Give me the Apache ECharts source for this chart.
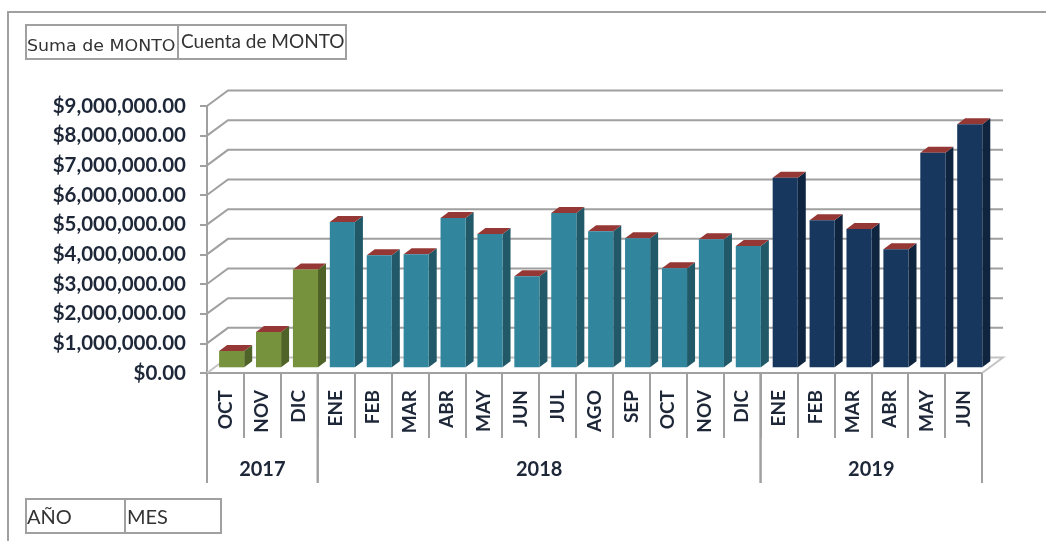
<!DOCTYPE html>
<html style="height: 100%">
<head>
<meta charset="utf-8">
<style>
  body { margin: 0; background: #fff; overflow: hidden; }
  #container { width: 1046px; height: 541px; filter: blur(0.7px); }
</style>
</head>
<body>
<div id="container"></div>
<script src="https://cdn.jsdelivr.net/npm/echarts@6/dist/echarts.min.js"></script>
<script>
var months2017 = ['OCT', 'NOV', 'DIC'];
var months2018 = ['ENE', 'FEB', 'MAR', 'ABR', 'MAY', 'JUN', 'JUL', 'AGO', 'SEP', 'OCT', 'NOV', 'DIC'];
var months2019 = ['ENE', 'FEB', 'MAR', 'ABR', 'MAY', 'JUN'];
var monto2017 = [550000, 1190000, 3300000];
var monto2018 = [4900000, 3780000, 3810000, 5030000, 4490000, 3070000, 5200000, 4590000, 4350000, 3340000, 4320000, 4090000];
var monto2019 = [6390000, 4960000, 4660000, 3980000, 7230000, 8190000];
var years = ['2017', '2018', '2019'];
var gridTicks = [0, 1000000, 2000000, 3000000, 4000000, 5000000, 6000000, 7000000, 8000000, 9000000];

var font = 'Lato';
var textColor = '#1d2738';
var lineColor = '#a0a0a0';
var floorColor = '#c4c4c4';
var frontColors = ['#76923c', '#31859c', '#17375e'];
var sideColors = ['#4f6228', '#215968', '#0f243e'];
var topColor = '#953735';

// profundidad del efecto 3D
var wallDx = 21, wallDy = 15.5;
var barDx = 8, barDy = 6;
var barShiftX = 6.2, barShiftY = 5.7;

var groups = [months2017, months2018, months2019];
var months = months2017.concat(months2018, months2019);
var monto = monto2017.concat(monto2018, monto2019);

var barData = monto.map(function (v, i) {
    var g = i < months2017.length ? 0 : (i < months2017.length + months2018.length ? 1 : 2);
    return [i, v, g];
});
var tickData = gridTicks.map(function (v) { return [0, v]; });
var start = 0;
var yearData = years.map(function (y, i) {
    var row = [start, start + groups[i].length, y];
    start += groups[i].length;
    return row;
});

function money(v) {
    return '$' + v.toLocaleString('en-US', { minimumFractionDigits: 2, maximumFractionDigits: 2 });
}

function renderWall(params, api) {
    var cs = params.coordSys;
    var y = api.coord([0, api.value(1)])[1];
    var pts = [[cs.x, y], [cs.x + wallDx, y - wallDy], [cs.x + cs.width + wallDx, y - wallDy]];
    // el piso se cierra con la diagonal de la derecha
    if (api.value(1) === 0) {
        pts.push([cs.x + cs.width, y]);
    }
    return {
        type: 'polyline',
        shape: { points: pts },
        style: { stroke: api.value(1) === 0 ? floorColor : lineColor, lineWidth: 2, fill: null }
    };
}

function renderBar(params, api) {
    var p = api.coord([api.value(0), api.value(1)]);
    var base = api.coord([api.value(0), 0]);
    var g = api.value(2);
    var w = api.size([1, 0])[0] * 0.68;
    var x0 = p[0] - w / 2 + barShiftX;
    var x1 = x0 + w;
    var yt = p[1] - barShiftY;
    var yb = base[1] - barShiftY;
    return {
        type: 'group',
        children: [
            { type: 'polygon', shape: { points: [[x1, yt], [x1 + barDx, yt - barDy], [x1 + barDx, yb - barDy], [x1, yb]] }, style: { fill: sideColors[g] } },
            { type: 'polygon', shape: { points: [[x0, yt], [x0 + barDx, yt - barDy], [x1 + barDx, yt - barDy], [x1, yt]] }, style: { fill: topColor } },
            { type: 'rect', shape: { x: x0, y: yt, width: w, height: yb - yt }, style: { fill: frontColors[g] } }
        ]
    };
}

function renderYear(params, api) {
    var band = api.size([1, 0])[0];
    var a = api.coord([api.value(0), 0]);
    var x0 = a[0] - band / 2;
    var x1 = x0 + band * (api.value(1) - api.value(0));
    var y = a[1];
    return {
        type: 'group',
        children: [
            { type: 'line', shape: { x1: x0, y1: y, x2: x0, y2: y + 110 }, style: { stroke: lineColor, lineWidth: 2 } },
            { type: 'line', shape: { x1: x1, y1: y, x2: x1, y2: y + 110 }, style: { stroke: lineColor, lineWidth: 2 } },
            { type: 'text', style: { x: (x0 + x1) / 2, y: y + 97, text: years[params.dataIndex], font: 'bold 20px ' + font, fill: textColor, align: 'center', verticalAlign: 'middle' } }
        ]
    };
}

function box(x, y, w, h) {
    return { type: 'rect', shape: { x: x, y: y, width: w, height: h }, style: { fill: '#fff', stroke: lineColor, lineWidth: 2 } };
}

function boxText(x, y, label, size, fontName, sx) {
    return { type: 'text', x: x, y: y, scaleX: sx || 1, style: { text: label, font: size + 'px ' + fontName, fill: '#333', verticalAlign: 'middle' } };
}

var myChart = echarts.init(document.getElementById('container'));
var option = {
    animation: false,
    backgroundColor: '#fff',
    grid: { left: 207, top: 106, width: 775, height: 267 },
    graphic: [
        { type: 'polyline', shape: { points: [[8, 541], [8, 12], [1046, 12]] }, style: { stroke: lineColor, lineWidth: 2, fill: null } },
        box(26, 25, 152, 34),
        box(178, 25, 168, 34),
        box(26, 499, 99, 34),
        box(125, 499, 96, 34),
        boxText(27, 47, 'Suma de MONTO', 15, '"DejaVu Sans"', 1.16),
        boxText(181, 42, 'Cuenta de MONTO', 19, font),
        boxText(27, 518, 'AÑO', 20, font),
        boxText(127, 518, 'MES', 20, font)
    ],
    xAxis: {
        type: 'category',
        data: months,
        axisLine: { lineStyle: { color: lineColor, width: 2 } },
        axisTick: { show: true, interval: 0, length: 65, lineStyle: { color: lineColor, width: 2 } },
        axisLabel: { interval: 0, rotate: 90, margin: 17, fontFamily: font, fontWeight: 'bold', fontSize: 19, color: textColor },
        splitLine: { show: false }
    },
    yAxis: {
        type: 'value',
        min: 0,
        max: 9000000,
        interval: 1000000,
        axisLine: { show: true, lineStyle: { color: lineColor, width: 2 } },
        axisTick: { show: true, length: 7, lineStyle: { color: lineColor, width: 2 } },
        axisLabel: { margin: 21, formatter: money, fontFamily: font, fontWeight: 'bold', fontSize: 20.5, color: textColor },
        splitLine: { show: false }
    },
    series: [
        { type: 'custom', z: 1, data: tickData, encode: { x: 0, y: 1 }, renderItem: renderWall, silent: true },
        { type: 'custom', z: 3, data: barData, encode: { x: 0, y: 1 }, renderItem: renderBar },
        { type: 'custom', z: 2, data: yearData, encode: { x: 0 }, renderItem: renderYear, silent: true }
    ]
};
myChart.setOption(option);
</script>
</body>
</html>
